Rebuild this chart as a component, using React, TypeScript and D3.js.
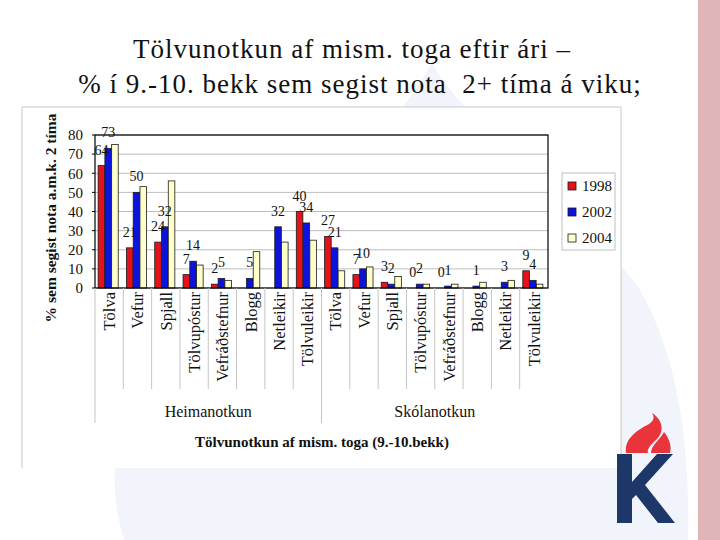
import React from 'react';
import * as d3 from 'd3';

// Tölvunotkun eftir ári, % nemenda í 9.-10. bekk
const categories = ['Tölva', 'Vefur', 'Spjall', 'Tölvupóstur', 'Vefráðstefnur', 'Blogg', 'Netleikir', 'Tölvuleikir'];
const groups = ['Heimanotkun', 'Skólanotkun'];
const years = ['1998', '2002', '2004'];

const heima1998 = [64, 21, 24, 7, 2, null, null, 40];
const heima2002 = [73, 50, 32, 14, 5, 5, 32, 34];
const heima2004 = [75, 53, 56, 12, 4, 19, 24, 25];
const skola1998 = [27, 7, 3, 0, 0, null, null, 9];
const skola2002 = [21, 10, 2, 2, 1, 1, 3, 4];
const skola2004 = [9, 11, 6, 2, 2, 3, 4, 2];

const yTicks = [0, 10, 20, 30, 40, 50, 60, 70, 80];
const labelledYears = ['1998', '2002'];

const seriesColors: Record<string, string> = { '1998': '#e3121b', '2002': '#0c14dc', '2004': '#ffffcc' };

const FONT = 'Liberation Serif';

const App: React.FC = () => {
  const margin = { top: 135, right: 172, bottom: 252, left: 95 };
  const width = 720 - margin.left - margin.right;
  const plotBottom = 540 - margin.bottom;

  const seriesByYear: Record<string, (number | null)[]> = {
    '1998': [...heima1998, ...skola1998],
    '2002': [...heima2002, ...skola2002],
    '2004': [...heima2004, ...skola2004],
  };

  const keys = groups.flatMap((g) => categories.map((c) => `${g}|${c}`));

  const x = d3.scaleBand<string>().domain(keys).range([margin.left, margin.left + width]);
  const bw = x.bandwidth();
  const xi = d3.scaleBand<string>().domain(years).range([bw * 0.11, bw * 0.82]).paddingInner(0.03);
  const y = d3.scaleLinear().domain([0, 80]).range([plotBottom, margin.top]);

  const groupStart = (g: string) => x(`${g}|${categories[0]}`) as number;
  const groupEnd = (g: string) => (x(`${g}|${categories[categories.length - 1]}`) as number) + bw;

  return (
    <svg width={720} height={540} style={{ position: 'absolute', left: 0, top: 0, background: '#fff' }}>
      {/* watermark */}
      <path
        d="M 432 62 C 455 115, 565 185, 640 290 C 680 360, 690 450, 688 540 L 124 540 C 106 480, 112 420, 160 350 C 250 230, 390 150, 432 62 Z"
        fill="#f1f4fa"
      />
      <rect x={698} y={0} width={22} height={540} fill="#e0b5b7" />

      {/* slide title */}
      <text x={352} y={58} textAnchor="middle" fontFamily={FONT} fontSize={27} letterSpacing={1} fill="#111" style={{ whiteSpace: 'pre' }}>
        Tölvunotkun af mism. toga eftir ári –
      </text>
      <text x={360} y={93} textAnchor="middle" fontFamily={FONT} fontSize={27} letterSpacing={1} fill="#111" style={{ whiteSpace: 'pre' }}>
        % í 9.-10. bekk sem segist nota  2+ tíma á viku;
      </text>

      {/* chart picture frame */}
      <rect x={22} y={107} width={599} height={361} fill="#fff" />
      <path d="M 22 468 V 107 H 621 V 468" fill="none" stroke="#c8c8c8" strokeWidth={1} />

      {/* gridlines */}
      {yTicks.map((t) => (
        <line key={t} x1={margin.left} x2={margin.left + width} y1={y(t)} y2={y(t)} stroke="#bdbdbd" strokeWidth={1} />
      ))}

      {/* bars */}
      {years.map((yr) =>
        keys.map((k, i) => {
          const v = seriesByYear[yr][i];
          if (v === null) return null;
          const bx = (x(k) as number) + (xi(yr) as number);
          return (
            <rect
              key={`${yr}-${k}`}
              x={bx}
              y={y(v)}
              width={xi.bandwidth()}
              height={plotBottom - y(v)}
              fill={seriesColors[yr]}
              stroke="#1a1a1a"
              strokeWidth={0.8}
            />
          );
        })
      )}

      {/* plot frame */}
      <rect x={margin.left} y={margin.top} width={width} height={plotBottom - margin.top} fill="none" stroke="#000" strokeWidth={1.2} />

      {/* data labels */}
      {labelledYears.map((yr) =>
        keys.map((k, i) => {
          const v = seriesByYear[yr][i];
          if (v === null) return null;
          const cx = (x(k) as number) + (xi(yr) as number) + xi.bandwidth() / 2;
          return (
            <text key={`l${yr}-${k}`} x={cx} y={y(v) - 11} textAnchor="middle" fontFamily={FONT} fontSize={14} fill="#111">
              {v}
            </text>
          );
        })
      )}

      {/* y axis */}
      {yTicks.map((t) => (
        <g key={`t${t}`}>
          <line x1={margin.left - 3} x2={margin.left} y1={y(t)} y2={y(t)} stroke="#000" />
          <text x={83} y={y(t)} dy="0.35em" textAnchor="end" fontFamily={FONT} fontSize={15} fill="#111">
            {t}
          </text>
        </g>
      ))}
      <text
        transform={`translate(56,218) rotate(-90)`}
        textAnchor="middle"
        fontFamily={FONT}
        fontSize={15.5}
        fontWeight="bold"
        fill="#111"
      >
        % sem segist nota a.m.k. 2 tíma
      </text>

      {/* x axis separators */}
      {keys.map((k, i) => {
        const x0 = x(k) as number;
        const isGroupEdge = i % categories.length === 0;
        return (
          <line key={`s${k}`} x1={x0} x2={x0} y1={plotBottom} y2={isGroupEdge ? 423 : 389} stroke="#c4c4c4" strokeWidth={1} />
        );
      })}

      {/* category labels */}
      {keys.map((k) => {
        const cx = (x(k) as number) + bw / 2;
        return (
          <text
            key={`c${k}`}
            transform={`translate(${cx},${plotBottom + 4}) rotate(-90)`}
            dy="0.35em"
            textAnchor="end"
            fontFamily={FONT}
            fontSize={16.5}
            fill="#111"
          >
            {k.split('|')[1]}
          </text>
        );
      })}

      {/* group labels */}
      {groups.map((g) => (
        <text key={g} x={(groupStart(g) + groupEnd(g)) / 2} y={417} textAnchor="middle" fontFamily={FONT} fontSize={16} fill="#111">
          {g}
        </text>
      ))}

      <text x={322} y={447} textAnchor="middle" fontFamily={FONT} fontSize={15} fontWeight="bold" fill="#111">
        Tölvunotkun af mism. toga (9.-10.bekk)
      </text>

      {/* legend */}
      <rect x={562} y={173} width={53} height={77} fill="#fff" stroke="#c0c0c0" strokeWidth={1} />
      {years.map((yr, i) => (
        <g key={`lg${yr}`} transform={`translate(568,${186 + i * 26})`}>
          <rect x={0} y={-4} width={8} height={8} fill={seriesColors[yr]} stroke="#1a1a1a" strokeWidth={0.8} />
          <text x={14} y={0} dy="0.35em" fontFamily={FONT} fontSize={15} fill="#111">
            {yr}
          </text>
        </g>
      ))}

      {/* logo */}
      <path
        d="M 617 454 H 632 V 482 L 657 454 H 673 L 645 485 L 675 523 H 658 L 636 495 L 632 499 V 523 H 617 Z"
        fill="#1d3768"
      />
      <path
        d="M 626 453 C 624 438, 638 430, 649 424 C 655 420, 654 416, 652 413 C 663 420, 665 432, 656 440 C 649 446, 647 450, 648 453 Z"
        fill="#e8343a"
      />
      <path d="M 651 453 C 651 445, 660 440, 664 432 C 669 438, 672 446, 670 453 Z" fill="#e8343a" />
    </svg>
  );
};

export default App;
